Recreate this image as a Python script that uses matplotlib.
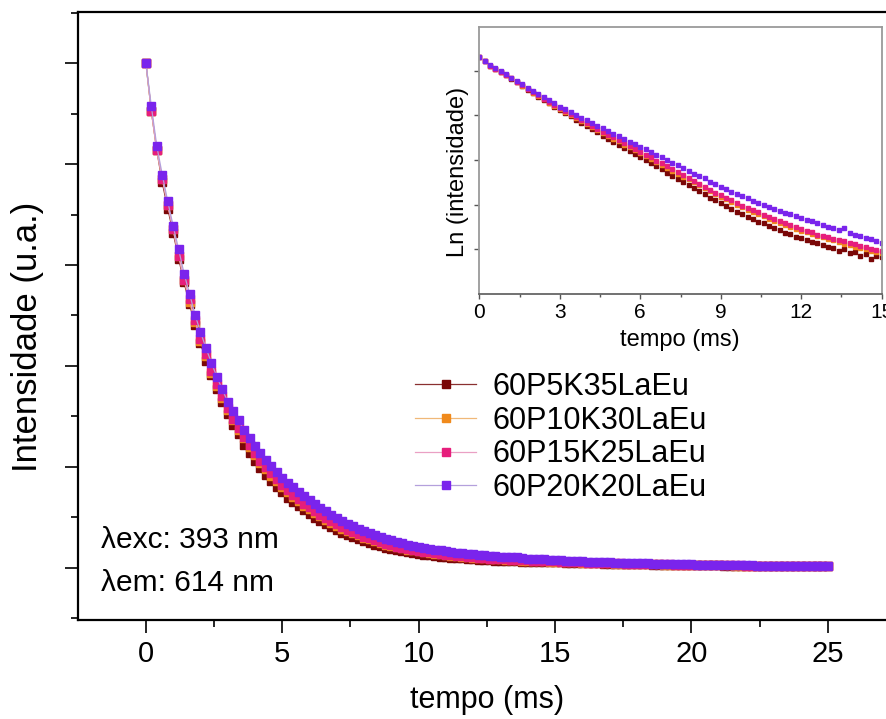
import numpy as np
import matplotlib
matplotlib.use('Agg')
import matplotlib.pyplot as plt
from matplotlib.ticker import MultipleLocator, NullFormatter

plt.rcParams['font.family'] = ['Liberation Sans', 'DejaVu Sans']

# time grid (ms), one point every 0.2 ms from 0 to 25 ms
t_ms = np.round(np.arange(126) * 0.2, 1)

ln_p5 = [0, -0.10, -0.19, -0.27, -0.34, -0.41, -0.49, -0.57, -0.65, -0.73,
         -0.81, -0.89, -0.96, -1.04, -1.11, -1.19, -1.26, -1.33, -1.41, -1.48,
         -1.55, -1.62, -1.69, -1.76, -1.83, -1.90, -1.97, -2.04, -2.10, -2.17,
         -2.24, -2.31, -2.38, -2.45, -2.52, -2.59, -2.66, -2.73, -2.80, -2.87,
         -2.94, -3.01, -3.07, -3.15, -3.21, -3.28, -3.34, -3.40, -3.47, -3.52,
         -3.58, -3.63, -3.69, -3.73, -3.79, -3.84, -3.88, -3.94, -3.97, -4.03,
         -4.06, -4.09, -4.14, -4.16, -4.22, -4.25, -4.27, -4.34, -4.31, -4.40,
         -4.38, -4.45, -4.42, -4.52, -4.46, -4.48, -4.51, -4.54, -4.57, -4.59,
         -4.62, -4.65, -4.68, -4.71, -4.73, -4.76, -4.79, -4.82, -4.85, -4.87,
         -4.90, -4.93, -4.95, -4.98, -5.00, -5.03, -5.06, -5.08, -5.11, -5.13,
         -5.16, -5.19, -5.21, -5.24, -5.26, -5.29, -5.32, -5.34, -5.37, -5.39,
         -5.42, -5.45, -5.47, -5.49, -5.52, -5.54, -5.57, -5.59, -5.61, -5.64,
         -5.66, -5.69, -5.71, -5.73, -5.76, -5.78]

ln_p10 = [0, -0.10, -0.19, -0.26, -0.33, -0.40, -0.48, -0.56, -0.64, -0.72,
          -0.80, -0.87, -0.95, -1.02, -1.09, -1.16, -1.23, -1.30, -1.36, -1.43,
          -1.50, -1.57, -1.63, -1.70, -1.76, -1.83, -1.89, -1.96, -2.02, -2.09,
          -2.15, -2.22, -2.28, -2.35, -2.41, -2.48, -2.55, -2.61, -2.68, -2.74,
          -2.81, -2.87, -2.94, -3.00, -3.07, -3.13, -3.19, -3.25, -3.31, -3.36,
          -3.42, -3.47, -3.52, -3.57, -3.62, -3.67, -3.71, -3.76, -3.80, -3.85,
          -3.89, -3.93, -3.97, -4.00, -4.04, -4.08, -4.11, -4.15, -4.18, -4.22,
          -4.25, -4.28, -4.31, -4.35, -4.37, -4.40, -4.43, -4.46, -4.49, -4.52,
          -4.55, -4.58, -4.61, -4.64, -4.67, -4.70, -4.73, -4.75, -4.78, -4.81,
          -4.84, -4.87, -4.90, -4.92, -4.95, -4.98, -5.01, -5.03, -5.06, -5.09,
          -5.12, -5.14, -5.17, -5.20, -5.22, -5.25, -5.28, -5.30, -5.33, -5.35,
          -5.38, -5.41, -5.43, -5.46, -5.48, -5.51, -5.53, -5.56, -5.58, -5.61,
          -5.63, -5.66, -5.68, -5.71, -5.73, -5.76]

ln_p15 = [0, -0.10, -0.19, -0.26, -0.33, -0.40, -0.48, -0.56, -0.63, -0.71,
          -0.79, -0.86, -0.94, -1.01, -1.08, -1.15, -1.22, -1.28, -1.35, -1.41,
          -1.48, -1.55, -1.61, -1.67, -1.74, -1.80, -1.87, -1.93, -1.99, -2.06,
          -2.12, -2.19, -2.25, -2.32, -2.38, -2.45, -2.52, -2.58, -2.65, -2.71,
          -2.78, -2.84, -2.91, -2.97, -3.04, -3.10, -3.16, -3.21, -3.27, -3.33,
          -3.38, -3.43, -3.48, -3.53, -3.58, -3.63, -3.67, -3.72, -3.76, -3.81,
          -3.85, -3.89, -3.92, -3.98, -4.00, -4.04, -4.07, -4.11, -4.13, -4.17,
          -4.20, -4.24, -4.26, -4.30, -4.32, -4.35, -4.38, -4.41, -4.44, -4.47,
          -4.50, -4.53, -4.56, -4.59, -4.62, -4.65, -4.68, -4.71, -4.74, -4.76,
          -4.79, -4.82, -4.85, -4.88, -4.90, -4.93, -4.96, -4.99, -5.02, -5.04,
          -5.07, -5.10, -5.13, -5.16, -5.18, -5.21, -5.24, -5.26, -5.29, -5.31,
          -5.34, -5.37, -5.39, -5.42, -5.44, -5.47, -5.50, -5.52, -5.55, -5.57,
          -5.60, -5.63, -5.65, -5.68, -5.70, -5.73]

ln_p20 = [0, -0.09, -0.18, -0.25, -0.32, -0.39, -0.46, -0.54, -0.61, -0.69,
          -0.76, -0.83, -0.90, -0.97, -1.04, -1.11, -1.17, -1.23, -1.30, -1.36,
          -1.42, -1.48, -1.54, -1.60, -1.66, -1.72, -1.78, -1.83, -1.90, -1.95,
          -2.01, -2.07, -2.13, -2.19, -2.25, -2.31, -2.37, -2.43, -2.48, -2.55,
          -2.61, -2.67, -2.72, -2.79, -2.85, -2.91, -2.96, -3.02, -3.07, -3.12,
          -3.17, -3.22, -3.26, -3.31, -3.35, -3.40, -3.44, -3.49, -3.52, -3.57,
          -3.61, -3.65, -3.68, -3.73, -3.76, -3.80, -3.84, -3.87, -3.83, -3.94,
          -3.98, -4.01, -4.05, -4.08, -4.12, -4.16, -4.19, -4.23, -4.26, -4.30,
          -4.33, -4.36, -4.40, -4.43, -4.47, -4.50, -4.53, -4.56, -4.60, -4.63,
          -4.66, -4.69, -4.72, -4.76, -4.79, -4.82, -4.85, -4.88, -4.91, -4.94,
          -4.97, -5.00, -5.03, -5.06, -5.09, -5.12, -5.15, -5.18, -5.21, -5.24,
          -5.27, -5.30, -5.33, -5.36, -5.38, -5.41, -5.44, -5.47, -5.50, -5.52,
          -5.55, -5.58, -5.61, -5.63, -5.66, -5.69]

labels = ['60P5K35LaEu', '60P10K30LaEu', '60P15K25LaEu', '60P20K20LaEu']
series = [ln_p5, ln_p10, ln_p15, ln_p20]
marker_colors = ['#7a0707', '#f08a1c', '#e61e7c', '#7a24ec']
line_colors = ['#8a3030', '#f0b878', '#eaa0c4', '#b4a0dc']

fig = plt.figure(figsize=(8.86, 7.19), dpi=100)

# main axes (right side runs off the picture)
ax = fig.add_axes([0.088, 0.1377, 0.912, 0.8456])
for lnv, lab, mc, lc in zip(series, labels, marker_colors, line_colors):
    ax.plot(t_ms, np.exp(lnv), color=lc, lw=0.9, marker='s', ms=5.5,
            mfc=mc, mec=mc, label=lab)

ax.set_xlim(-2.49, 27.13)
ax.set_ylim(-0.103, 1.101)
ax.xaxis.set_major_locator(MultipleLocator(5))
ax.xaxis.set_minor_locator(MultipleLocator(2.5))
ax.yaxis.set_major_locator(MultipleLocator(0.2))
ax.yaxis.set_minor_locator(MultipleLocator(0.1))
ax.yaxis.set_major_formatter(NullFormatter())
ax.tick_params(which='major', direction='out', length=9.5, width=1.2, labelsize=21, pad=5)
ax.tick_params(which='minor', direction='out', length=5, width=1.2)
ax.spines['right'].set_visible(False)
for s in ['left', 'bottom', 'top']:
    ax.spines[s].set_linewidth(1.6)

ax.text(-1.65, 0.055, 'λexc: 393 nm', fontsize=21.5, va='center', ha='left')
ax.text(-1.65, -0.030, 'λem: 614 nm', fontsize=21.5, va='center', ha='left')

fig.text(487 / 886, 1 - 700 / 719, 'tempo (ms)', fontsize=22, ha='center', va='center')
fig.text(28 / 886, 1 - 337 / 719, 'Intensidade (u.a.)', fontsize=25,
         ha='center', va='center', rotation=90)

ax.legend(loc='upper left', bbox_to_anchor=(415 / 886, 1 - 372 / 719),
          bbox_transform=fig.transFigure, frameon=False, fontsize=22,
          handlelength=2.0, handletextpad=0.55, labelspacing=0.12,
          borderpad=0, borderaxespad=0, markerscale=1.0)

# inset: ln(intensity)
axi = fig.add_axes([479.3 / 886, 1 - 294 / 719, 402.4 / 886, 267 / 719])
for lnv, mc in zip(series, marker_colors):
    axi.plot(t_ms, lnv, ls='none', marker='s', ms=3.0, mfc=mc, mec=mc)
axi.set_xlim(0, 15)
axi.set_ylim(-5.31, 0.673)
axi.xaxis.set_major_locator(MultipleLocator(3))
axi.xaxis.set_minor_locator(MultipleLocator(1.5))
axi.set_yticks([-0.31, -1.31, -2.31, -3.31, -4.31])
axi.yaxis.set_major_formatter(NullFormatter())
axi.tick_params(which='major', direction='out', length=3.5, width=1, labelsize=15,
                pad=3, color='#555555')
axi.tick_params(which='minor', direction='out', length=2, width=1, color='#555555')
for s in axi.spines.values():
    s.set_color('#9a9a9a')
    s.set_linewidth(1.3)
axi.spines['bottom'].set_color('#666666')

fig.text(680 / 886, 1 - 340 / 719, 'tempo (ms)', fontsize=17, ha='center', va='center')
fig.text(458 / 886, 1 - 172 / 719, 'Ln (intensidade)', fontsize=17,
         ha='center', va='center', rotation=90)

fig.savefig('out.png', dpi=100)
